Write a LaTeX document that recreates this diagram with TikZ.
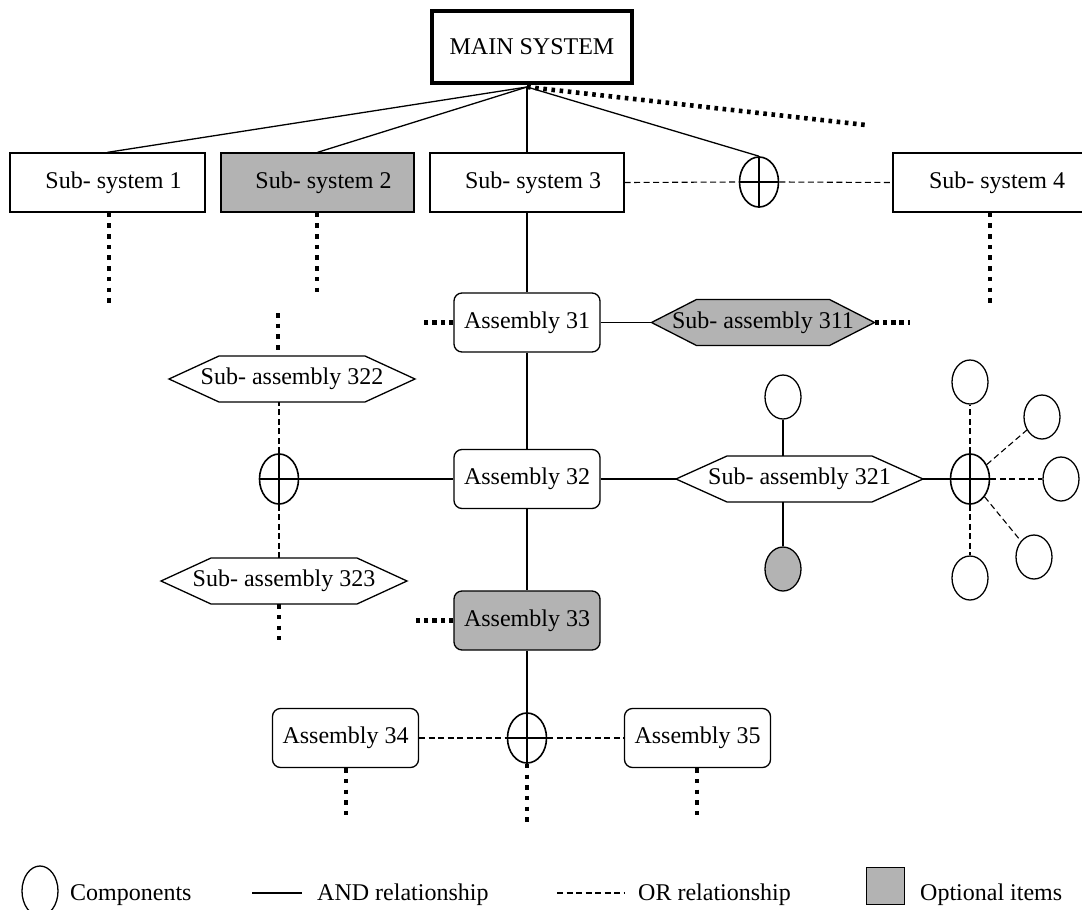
\documentclass[tikz,border=0pt]{standalone}
\usepackage{fontspec}
\setmainfont{Liberation Serif}
\usetikzlibrary{shapes.geometric}
\definecolor{optgray}{RGB}{179,179,179}
\tikzset{
  box/.style={draw, line width=1.3pt, minimum height=59pt, inner sep=0pt},
  asm/.style={draw, rounded corners=8pt, line width=1.3pt, minimum width=146pt, minimum height=59pt, inner sep=0pt},
  opt/.style={fill=optgray},
  comp/.style={draw, ellipse, line width=1.3pt, minimum width=36pt, minimum height=44pt, inner sep=0pt},
  orgate/.style={draw, ellipse, line width=1.6pt, minimum width=39pt, minimum height=50pt, inner sep=0pt},
  andline/.style={line width=1.3pt},
  orline/.style={line width=1.1pt, dash pattern=on 6pt off 3.5pt},
  vdots/.style={line width=4.6pt, dash pattern=on 4.5pt off 6.2pt},
  hdots/.style={line width=4.6pt, dash pattern=on 4.5pt off 3.8pt},
  ddots/.style={line width=4.6pt, dash pattern=on 3.6pt off 4.6pt},
  crossline/.style={line width=1.6pt},
  legtext/.style={anchor=base west, inner sep=0pt},
}
% name, cx, cy, half flat width, point depth, style, text
\newcommand\hexa[7]{%
  \draw[andline,#6] (#2-#4,#3-23) -- (#2+#4,#3-23) -- (#2+#4+#5,#3) -- (#2+#4,#3+23) -- (#2-#4,#3+23) -- (#2-#4-#5,#3) -- cycle;
  \node[inner sep=0pt, minimum width={2*#4+2*#5}, minimum height=46pt] (#1) at (#2,#3) {#7};
  \coordinate (#1-w) at (#2-#4-#5,#3);
  \coordinate (#1-e) at (#2+#4+#5,#3);
}
\newcommand\orcross[1]{%
  \draw[crossline] (#1.north) -- (#1.south);
  \draw[crossline] (#1.west) -- (#1.east);
}
\begin{document}
\begin{tikzpicture}[x=1pt, y=-1pt, font=\fontsize{24}{28}\selectfont]
\useasboundingbox (0,0) rectangle (1082,910);

% main
\node[box, line width=4pt, minimum width=200pt, minimum height=72pt] (main) at (532,47) {MAIN SYSTEM};
\coordinate (apex) at (527,87);

% subsystems
\node[box, minimum width=195pt] (ss1) at (107.5,182.5) {\hspace*{12pt}Sub- system 1};
\node[box, opt, minimum width=193pt] (ss2) at (317.5,182.5) {\hspace*{12pt}Sub- system 2};
\node[box, minimum width=194pt] (ss3) at (527,182.5) {\hspace*{12pt}Sub- system 3};
\node[box, minimum width=196pt] (ss4) at (991,182.5) {\hspace*{12pt}Sub- system 4};
\node[orgate] (or1) at (759,182) {};

\draw[andline] (apex) -- (ss1.north);
\draw[andline] (apex) -- (ss2.north);
\draw[andline] (apex) -- (ss3.north);
\draw[andline] (apex) -- (or1.north);
\coordinate (ddiag) at (866,125);
\draw[ddots] (apex) -- (ddiag);
\draw[orline] (ss3.east) -- (or1.west);
\draw[orline] (or1.east) -- (ss4.west);
\orcross{or1}

\coordinate (ds1) at (109,307);
\coordinate (ds2) at (317,295);
\coordinate (ds4) at (990,307);
\draw[vdots] (ds1 |- ss1.south) -- (ds1);
\draw[vdots] (ds2 |- ss2.south) -- (ds2);
\draw[vdots] (ds4 |- ss4.south) -- (ds4);

% assemblies
\node[asm] (a31) at (527,322.5) {Assembly 31};
\node[asm] (a32) at (527,479) {Assembly 32};
\node[asm, opt] (a33) at (527,620.5) {Assembly 33};
\node[asm] (a34) at (345.5,738) {Assembly 34};
\node[asm] (a35) at (697.5,738) {Assembly 35};

\draw[andline] (ss3.south) -- (a31.north);
\draw[andline] (a31.south) -- (a32.north);
\draw[andline] (a32.south) -- (a33.north);

% sub-assemblies
\hexa{h311}{763}{322.5}{66.5}{45}{fill=optgray}{Sub- assembly 311}
\hexa{h321}{799.5}{479}{72.5}{51}{fill=white}{Sub- assembly 321}
\hexa{h322}{292}{379}{73}{50}{fill=white}{Sub- assembly 322}
\hexa{h323}{284}{581}{73}{50}{fill=white}{Sub- assembly 323}

\draw[andline] (a31.east) -- (h311-w);
\coordinate (d31) at (422,322.5);
\coordinate (d311) at (910,322.5);
\draw[hdots] (a31.west) -- (d31);
\draw[hdots] (h311-e) -- (d311);

% left OR group
\node[orgate] (or2) at (279,479) {};
\draw[andline] (or2.east) -- (a32.west);
\draw[orline] (or2.north) -- (or2.north |- h322.south);
\draw[orline] (or2.south) -- (or2.south |- h323.north);
\orcross{or2}
\coordinate (d322) at (278,313);
\coordinate (d323) at (279,640);
\draw[vdots] (d322) -- (d322 |- h322.north);
\draw[vdots] (d323 |- h323.south) -- (d323);

% right group
\draw[andline] (a32.east) -- (h321-w);
\node[comp] (c1) at (783,397) {};
\node[comp, opt] (c2) at (783,569) {};
\draw[andline] (c1.south) -- (c1.south |- h321.north);
\draw[andline] (c2.north) -- (c2.north |- h321.south);

\node[orgate] (or4) at (970,479) {};
\draw[andline] (h321-e) -- (or4.west);
\node[comp] (c3) at (970,382) {};
\node[comp] (c4) at (1042,417) {};
\node[comp] (c5) at (1061,479) {};
\node[comp] (c6) at (1034,557) {};
\node[comp] (c7) at (970,578) {};
\draw[orline] (or4.north) -- (c3.south);
\draw[orline] (or4) -- (c4);
\draw[orline] (or4.east) -- (c5.west);
\draw[orline] (or4) -- (c6);
\draw[orline] (or4.south) -- (c7.north);
\orcross{or4}

% assembly 33 and bottom
\coordinate (d33) at (413,620.5);
\draw[hdots] (a33.west) -- (d33);
\node[orgate] (or3) at (527,738) {};
\draw[andline] (a33.south) -- (or3.north);
\draw[orline] (a34.east) -- (or3.west);
\draw[orline] (or3.east) -- (a35.west);
\orcross{or3}
\coordinate (d34) at (346,820);
\coordinate (dor3) at (527,826);
\coordinate (d35) at (697,817);
\draw[vdots] (d34 |- a34.south) -- (d34);
\draw[vdots] (or3.south) -- (dor3);
\draw[vdots] (d35 |- a35.south) -- (d35);

% legend
\node[comp, minimum height=50pt] (lcomp) at (40,891) {};
\node[legtext] (lcompt) at (70,900) {Components};
\coordinate (la1) at (252,893);
\coordinate (la2) at (302,893);
\draw[andline] (la1) -- (la2);
\node[legtext] (landt) at (317,900) {AND relationship};
\coordinate (lo1) at (557,893);
\coordinate (lo2) at (624,893);
\draw[orline] (lo1) -- (lo2);
\node[legtext] (lort) at (638,900) {OR relationship};
\node[draw, line width=1.3pt, fill=optgray, minimum width=38pt, minimum height=37pt, inner sep=0pt] (lopt) at (885.5,886) {};
\node[legtext] (loptt) at (920,900) {Optional items};
\end{tikzpicture}
\end{document}
